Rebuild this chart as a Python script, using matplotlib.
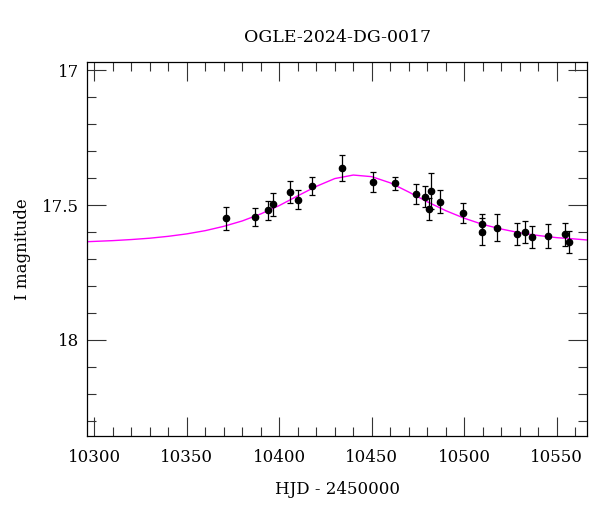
import matplotlib
matplotlib.use("Agg")
import matplotlib.pyplot as plt
from matplotlib.ticker import MultipleLocator, FixedLocator

# photometry (HJD - 2450000, I mag, error)
hjd = [10371.0, 10387.0, 10394.1, 10396.8, 10406.0, 10410.0, 10417.9, 10433.9,
       10450.7, 10462.7, 10473.9, 10478.8, 10480.8, 10481.9, 10486.9, 10499.5,
       10509.8, 10509.5, 10517.7, 10528.7, 10532.9, 10536.5, 10545.5, 10554.5,
       10556.6]
mag = [17.549, 17.543, 17.520, 17.497, 17.453, 17.480, 17.430, 17.364,
       17.416, 17.420, 17.460, 17.469, 17.516, 17.448, 17.488, 17.531,
       17.571, 17.599, 17.584, 17.607, 17.601, 17.617, 17.615, 17.609,
       17.636]
err = [0.042, 0.033, 0.034, 0.042, 0.041, 0.034, 0.033, 0.048,
       0.037, 0.025, 0.037, 0.040, 0.041, 0.067, 0.043, 0.037,
       0.037, 0.049, 0.049, 0.040, 0.040, 0.041, 0.045, 0.044,
       0.041]

# model curve
model_t = [10296, 10310, 10320, 10330, 10340, 10350, 10360, 10370, 10380, 10390,
           10400, 10410, 10420, 10430, 10440, 10450, 10460, 10470, 10480, 10490,
           10500, 10510, 10520, 10530, 10540, 10550, 10560, 10567]
model_mag = [17.636, 17.632, 17.628, 17.623, 17.616, 17.607, 17.595, 17.579, 17.559, 17.533,
             17.502, 17.466, 17.431, 17.402, 17.389, 17.395, 17.418, 17.452, 17.488, 17.521,
             17.549, 17.572, 17.589, 17.603, 17.613, 17.621, 17.626, 17.630]

plt.rcParams['font.family'] = ['DejaVu Serif']

fig = plt.figure(figsize=(6.0, 5.12), dpi=100)
ax = fig.add_axes([0.1455, 0.1484, 0.8333, 0.7311])

ax.plot(model_t, model_mag, color='#ff00ff', lw=1.0, zorder=2)
ax.errorbar(hjd, mag, yerr=err, fmt='o', color='black', ms=4.5,
            elinewidth=0.9, capsize=2.5, capthick=0.9, zorder=3)

ax.set_xlim(10296.2, 10566.5)
ax.set_ylim(18.356, 16.969)

ax.xaxis.set_major_locator(MultipleLocator(50))
ax.xaxis.set_minor_locator(MultipleLocator(10))
ax.yaxis.set_major_locator(FixedLocator([17, 17.5, 18]))
ax.yaxis.set_minor_locator(MultipleLocator(0.1))
ax.set_yticklabels(['17', '17.5', '18'])

ax.tick_params(which='both', direction='in', top=True, right=True,
               width=0.8, color='#333333', labelsize=12)
ax.tick_params(axis='x', which='major', length=13.5, pad=9)
ax.tick_params(axis='y', which='major', length=13.5, pad=6)
ax.tick_params(which='minor', length=6.7)
for s in ax.spines.values():
    s.set_linewidth(0.9)

ax.set_xlabel('HJD - 2450000', fontsize=12, labelpad=11)
ax.set_ylabel('I magnitude', fontsize=12, labelpad=8)
ax.set_title('OGLE-2024-DG-0017', fontsize=12.5, pad=14)

fig.savefig('out.png', dpi=100)
